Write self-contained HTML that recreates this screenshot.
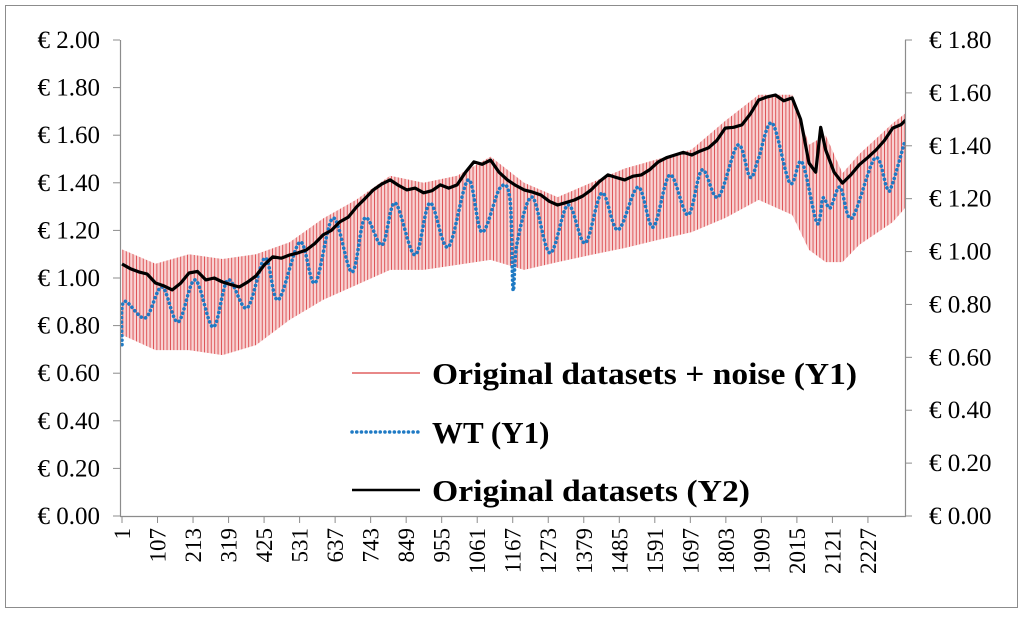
<!DOCTYPE html>
<html><head><meta charset="utf-8"><style>
html,body{margin:0;padding:0;background:#fff;}
svg{display:block;font-family:"Liberation Serif",serif;}
</style></head><body>
<svg id="chart" width="1024" height="617" viewBox="0 0 1024 617">
<defs>
<pattern id="stripes" patternUnits="userSpaceOnUse" width="3.4" height="10">
<rect width="3.4" height="10" fill="#f8d2d2"/>
<rect x="0" width="0.9" height="10" fill="#dc4a4e"/>
</pattern>
<clipPath id="plotClip"><rect x="120" y="30" width="786" height="487"/></clipPath>
</defs>
<rect x="5.5" y="5.5" width="1012" height="602" fill="#fff" stroke="#8c8c8c"/>
<g id="plot"></g>
<g id="axes"></g>
<g>
<line x1="352" y1="373" x2="420" y2="373" stroke="#e06060" stroke-width="1.5"/>
<text x="432" y="384" font-size="31" font-weight="bold" textLength="425" lengthAdjust="spacingAndGlyphs">Original datasets + noise (Y1)</text>
<line x1="352" y1="432" x2="420" y2="432" stroke="#1f7ac4" stroke-width="3.5" stroke-linecap="round" stroke-dasharray="0.1 4.6"/>
<text x="432" y="443" font-size="31" font-weight="bold">WT (Y1)</text>
<line x1="352" y1="490" x2="420" y2="490" stroke="#000" stroke-width="2.5"/>
<text x="432" y="501" font-size="31" font-weight="bold" textLength="318" lengthAdjust="spacingAndGlyphs">Original datasets (Y2)</text>
</g>
</svg>
<script>
const xTickLabels = [1,107,213,319,425,531,637,743,849,955,1061,1167,1273,1379,1485,1591,1697,1803,1909,2015,2121,2227];
const y1Ticks = [0,0.2,0.4,0.6,0.8,1.0,1.2,1.4,1.6,1.8,2.0];
const y2Ticks = [0,0.2,0.4,0.6,0.8,1.0,1.2,1.4,1.6,1.8];
// Original datasets (Y2)
const blackIdx = [0,25,50,75,100,125,150,175,200,225,250,275,300,325,350,375,400,425,450,475,500,525,550,575,600,625,650,675,700,725,750,775,800,825,850,875,900,925,950,975,1000,1025,1050,1075,1100,1125,1150,1175,1200,1225,1250,1275,1300,1325,1350,1375,1400,1425,1450,1475,1500,1525,1550,1575,1600,1625,1650,1675,1700,1725,1750,1775,1800,1825,1850,1875,1900,1925,1950,1975,2000,2025,2050,2070,2085,2100,2125,2150,2175,2200,2225,2250,2275,2300,2325,2345];
const blackVal = [0.953,0.935,0.923,0.915,0.881,0.870,0.855,0.880,0.919,0.925,0.893,0.900,0.885,0.875,0.866,0.885,0.908,0.950,0.980,0.975,0.987,0.995,1.006,1.030,1.063,1.080,1.112,1.130,1.169,1.200,1.233,1.255,1.271,1.250,1.233,1.240,1.222,1.230,1.252,1.240,1.252,1.300,1.339,1.330,1.346,1.300,1.271,1.250,1.233,1.225,1.214,1.190,1.176,1.185,1.195,1.210,1.233,1.265,1.290,1.280,1.271,1.285,1.290,1.310,1.339,1.355,1.365,1.375,1.365,1.380,1.392,1.420,1.467,1.470,1.479,1.520,1.573,1.585,1.592,1.570,1.581,1.500,1.335,1.300,1.470,1.384,1.300,1.259,1.290,1.328,1.355,1.384,1.420,1.467,1.480,1.505];
// WT (Y1) extrema
const blueIdx = [0,5,69,119,167,218,272,316,373,427,466,531,576,630,686,725,776,815,874,919,973,1033,1074,1128,1158,1167,1179,1224,1277,1331,1382,1432,1480,1540,1585,1635,1689,1731,1779,1838,1874,1898,1940,1993,2029,2074,2092,2113,2143,2178,2247,2283,2298,2337];
const blueVal = [0.72,0.90,0.832,0.962,0.815,0.992,0.794,0.992,0.874,1.084,0.908,1.151,0.979,1.252,1.025,1.252,1.139,1.315,1.097,1.315,1.130,1.412,1.193,1.378,1.33,0.95,1.147,1.340,1.105,1.307,1.147,1.357,1.202,1.382,1.214,1.433,1.265,1.454,1.340,1.559,1.424,1.496,1.651,1.399,1.487,1.231,1.336,1.294,1.382,1.252,1.504,1.378,1.391,1.580];
// Original + noise (Y1) envelope
const redIdx = [0,100,200,300,400,500,600,700,800,900,1000,1100,1200,1300,1400,1500,1600,1700,1800,1900,2000,2050,2100,2150,2200,2300,2345];
const redLow = [0.761,0.697,0.697,0.676,0.718,0.824,0.908,0.971,1.034,1.034,1.055,1.076,1.034,1.067,1.097,1.126,1.160,1.193,1.252,1.328,1.265,1.118,1.067,1.067,1.139,1.235,1.307];
const redHigh = [1.120,1.060,1.100,1.080,1.100,1.150,1.250,1.330,1.430,1.400,1.430,1.510,1.400,1.340,1.400,1.460,1.500,1.540,1.660,1.770,1.770,1.560,1.600,1.440,1.520,1.650,1.700];

const NS="http://www.w3.org/2000/svg";
const X0=122, XS=0.3351, YB=516, Y1S=238, Y2S=476/1.8;
const xPos = i => X0 + i*XS;
const y1Pos = v => YB - v*Y1S;
const y2Pos = v => YB - v*Y2S;
function mk(tag, attrs, parent){const e=document.createElementNS(NS,tag);for(const k in attrs)e.setAttribute(k,attrs[k]);parent.appendChild(e);return e;}
const plot=document.getElementById('plot');
plot.setAttribute('clip-path','url(#plotClip)');
const axes=document.getElementById('axes');

let pts=[];
for(let i=0;i<redIdx.length;i++)pts.push(xPos(redIdx[i]).toFixed(1)+','+y1Pos(redHigh[i]).toFixed(1));
for(let i=redIdx.length-1;i>=0;i--)pts.push(xPos(redIdx[i]).toFixed(1)+','+y1Pos(redLow[i]).toFixed(1));
const band=mk('polygon',{points:pts.join(' '),fill:'url(#stripes)'},plot);



function smooth(xs,ys){let d='M'+xs[0]+','+ys[0];for(let i=0;i<xs.length-1;i++){const p0=i>0?i-1:i,p3=i+2<xs.length?i+2:i+1;const c1x=xs[i]+(xs[i+1]-xs[p0])/6,c1y=ys[i]+(ys[i+1]-ys[p0])/6;const c2x=xs[i+1]-(xs[p3]-xs[i])/6,c2y=ys[i+1]-(ys[p3]-ys[i])/6;d+=' C'+c1x.toFixed(1)+','+c1y.toFixed(1)+' '+c2x.toFixed(1)+','+c2y.toFixed(1)+' '+xs[i+1].toFixed(1)+','+ys[i+1].toFixed(1);}return d;}
const blue=mk('path',{d:smooth(blueIdx.map(xPos),blueVal.map(y1Pos)),fill:'none',stroke:'#1f7ac4','stroke-width':3.6,'stroke-linecap':'round','stroke-dasharray':'0.1 4.4'},plot);



const black=mk('polyline',{points:blackIdx.map((v,i)=>xPos(v).toFixed(1)+','+y2Pos(blackVal[i]).toFixed(1)).join(' '),fill:'none',stroke:'#000','stroke-width':3.2,'stroke-linejoin':'round'},plot);



mk('line',{x1:120.5,y1:40,x2:120.5,y2:516,stroke:'#8c8c8c','stroke-width':1.2},axes);
mk('line',{x1:905.5,y1:40,x2:905.5,y2:516,stroke:'#8c8c8c','stroke-width':1.2},axes);
mk('line',{x1:120,y1:516.5,x2:906,y2:516.5,stroke:'#8c8c8c','stroke-width':1.2},axes);
y1Ticks.forEach(v=>{const y=y1Pos(v);
 mk('line',{x1:113,y1:y,x2:120,y2:y,stroke:'#8c8c8c'},axes);
 const t=mk('text',{x:100,y:y+8,'font-size':25,'text-anchor':'end'},axes);t.textContent='€ '+v.toFixed(2);
 
 
});
y2Ticks.forEach(v=>{const y=y2Pos(v);
 mk('line',{x1:905,y1:y,x2:912,y2:y,stroke:'#8c8c8c'},axes);
 const t=mk('text',{x:929,y:y+8,'font-size':25},axes);t.textContent='€ '+v.toFixed(2);
 
 
});
xTickLabels.forEach(v=>{const x=xPos(v-1);
 mk('line',{x1:x,y1:516,x2:x,y2:523,stroke:'#8c8c8c'},axes);
 const t=mk('text',{x:0,y:0,'font-size':23,'text-anchor':'end',transform:'translate('+(x+8)+',528) rotate(-90)'},axes);t.textContent=v;
 
 
});
</script>
</body></html>
